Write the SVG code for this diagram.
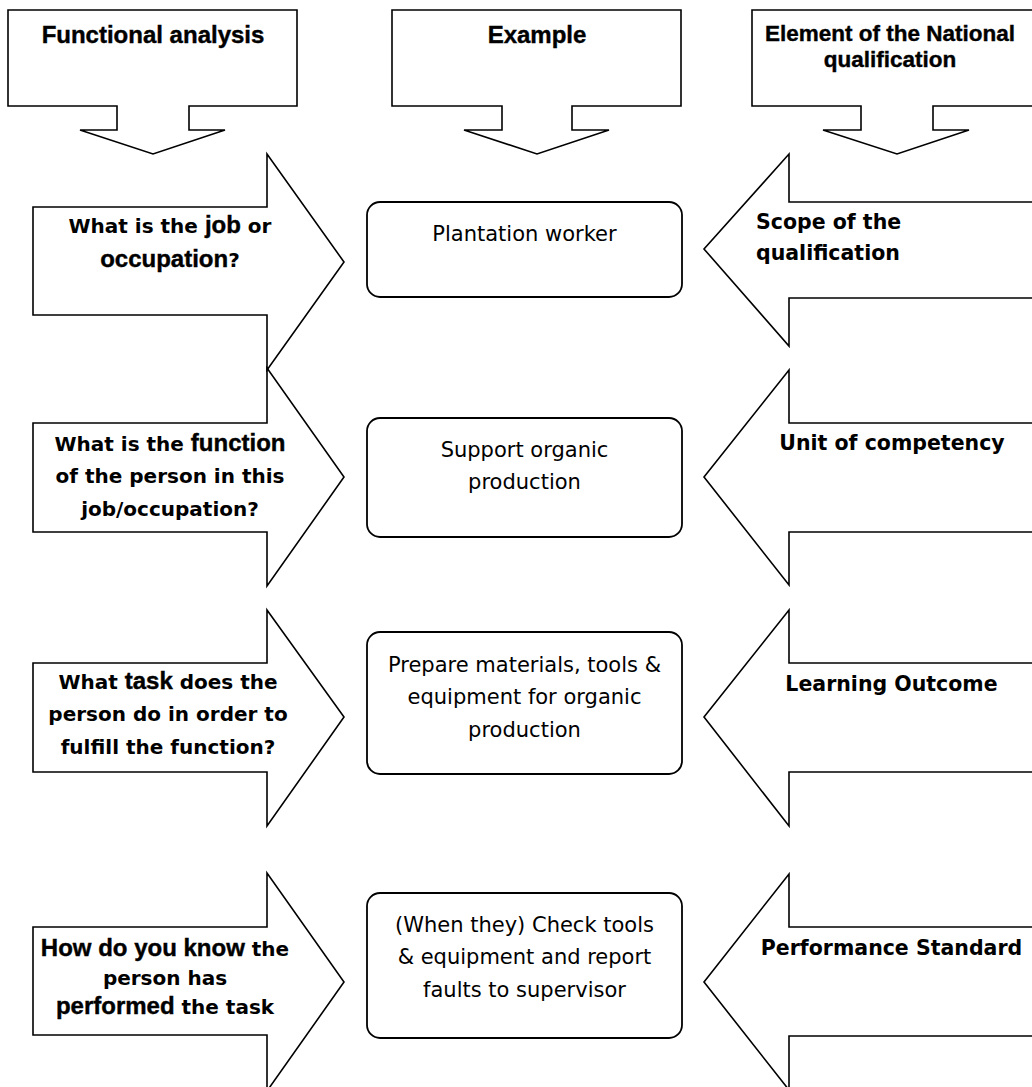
<svg xmlns="http://www.w3.org/2000/svg" width="1032" height="1087" viewBox="0 0 1032 1087">
  <style>
    .shape { fill: #ffffff; stroke: #000000; stroke-width: 1.6; stroke-linejoin: miter; }
    .box { fill: #ffffff; stroke: #000000; stroke-width: 1.8; }
    .hd { font-family: "Liberation Sans", Arial, sans-serif; font-weight: bold; font-size: 24px; fill: #000; stroke: #000; stroke-width: 0.4; text-anchor: middle; }
    .q { font-family: "DejaVu Sans", Verdana, sans-serif; font-weight: bold; font-size: 20px; fill: #000; }
    .em { font-family: "Liberation Sans", Arial, sans-serif; font-weight: bold; font-size: 24px; stroke: #000; stroke-width: 0.4; }
    .ex { font-family: "DejaVu Sans", Tahoma, sans-serif; font-size: 21px; fill: #000; text-anchor: middle; }
    .mid { text-anchor: middle; }
  </style>
  <rect width="1032" height="1087" fill="#ffffff"/>

  <!-- Column headers (callouts pointing down) -->
  <g id="header-functional">
    <path class="shape" d="M8,10 H297 V106 H189 V130 H225 L153,154 L80,130 H117 V106 H8 Z"/>
    <text class="hd" x="153" y="43">Functional analysis</text>
  </g>
  <g id="header-example">
    <path class="shape" d="M392,10 H681 V106 H572 V130 H609 L537,154 L464,130 H502 V106 H392 Z"/>
    <text class="hd" x="537" y="43">Example</text>
  </g>
  <g id="header-element">
    <path class="shape" d="M752,10 H1040 V106 H933 V130 H969 L897,154 L823,130 H861 V106 H752 Z"/>
    <text class="hd" x="890" y="41" style="font-size:22.5px">Element of the National</text>
    <text class="hd" x="890" y="67" style="font-size:22.5px">qualification</text>
  </g>

  <!-- Functional analysis questions (arrows pointing right) -->
  <g id="q-job">
    <path class="shape" d="M33,207 H267 V154 L344,262 L267,370 V315 H33 Z"/>
    <text class="q mid" x="170" y="233">What is the <tspan class="em">job</tspan> or</text>
    <text class="q mid" x="170" y="267"><tspan class="em">occupation</tspan>?</text>
  </g>
  <g id="q-function">
    <path class="shape" d="M33,423 H267 V368 L344,477 L267,586 V532 H33 Z"/>
    <text class="q mid" x="170" y="451">What is the <tspan class="em">function</tspan></text>
    <text class="q mid" x="170" y="483">of the person in this</text>
    <text class="q mid" x="170" y="516">job/occupation?</text>
  </g>
  <g id="q-task">
    <path class="shape" d="M33,663 H267 V610 L344,717 L267,826 V772 H33 Z"/>
    <text class="q mid" x="168" y="689">What <tspan class="em">task</tspan> does the</text>
    <text class="q mid" x="168" y="721">person do in order to</text>
    <text class="q mid" x="168" y="754">fulfill the function?</text>
  </g>
  <g id="q-performed">
    <path class="shape" d="M33,927 H267 V873 L344,982 L267,1091 V1035 H33 Z"/>
    <text class="q mid" x="165" y="956"><tspan class="em">How do you know</tspan> the</text>
    <text class="q mid" x="165" y="985">person has</text>
    <text class="q mid" x="165" y="1014"><tspan class="em">performed</tspan> the task</text>
  </g>

  <!-- Example column (rounded boxes) -->
  <g id="ex-worker">
    <rect class="box" x="367" y="202" width="315" height="95" rx="13"/>
    <text class="ex" x="524.5" y="241">Plantation worker</text>
  </g>
  <g id="ex-support">
    <rect class="box" x="367" y="418" width="315" height="119" rx="13"/>
    <text class="ex" x="524.5" y="457">Support organic</text>
    <text class="ex" x="524.5" y="489">production</text>
  </g>
  <g id="ex-prepare">
    <rect class="box" x="367" y="632" width="315" height="142" rx="13"/>
    <text class="ex" x="524.5" y="672">Prepare materials, tools &amp;</text>
    <text class="ex" x="524.5" y="704">equipment for organic</text>
    <text class="ex" x="524.5" y="737">production</text>
  </g>
  <g id="ex-check">
    <rect class="box" x="367" y="893" width="315" height="145" rx="13"/>
    <text class="ex" x="524.5" y="932">(When they) Check tools</text>
    <text class="ex" x="524.5" y="964">&amp; equipment and report</text>
    <text class="ex" x="524.5" y="997">faults to supervisor</text>
  </g>

  <!-- Qualification elements (arrows pointing left) -->
  <g id="el-scope">
    <path class="shape" d="M1040,202 H789 V154 L704,249 L789,346 V298 H1040 Z"/>
    <text class="q" x="756" y="229" style="font-size:20.5px">Scope of the</text>
    <text class="q" x="756" y="260" style="font-size:20.5px">qualification</text>
  </g>
  <g id="el-unit">
    <path class="shape" d="M1040,423 H789 V370 L704,477 L789,585 V532 H1040 Z"/>
    <text class="q mid" x="892" y="450" style="font-size:20.5px">Unit of competency</text>
  </g>
  <g id="el-outcome">
    <path class="shape" d="M1040,663 H789 V610 L704,717 L789,826 V772 H1040 Z"/>
    <text class="q mid" x="891.5" y="691" style="font-size:20.5px">Learning Outcome</text>
  </g>
  <g id="el-standard">
    <path class="shape" d="M1040,927 H789 V874 L704,982 L789,1090 V1036 H1040 Z"/>
    <text class="q mid" x="891.5" y="955" style="font-size:20.5px">Performance Standard</text>
  </g>
</svg>
